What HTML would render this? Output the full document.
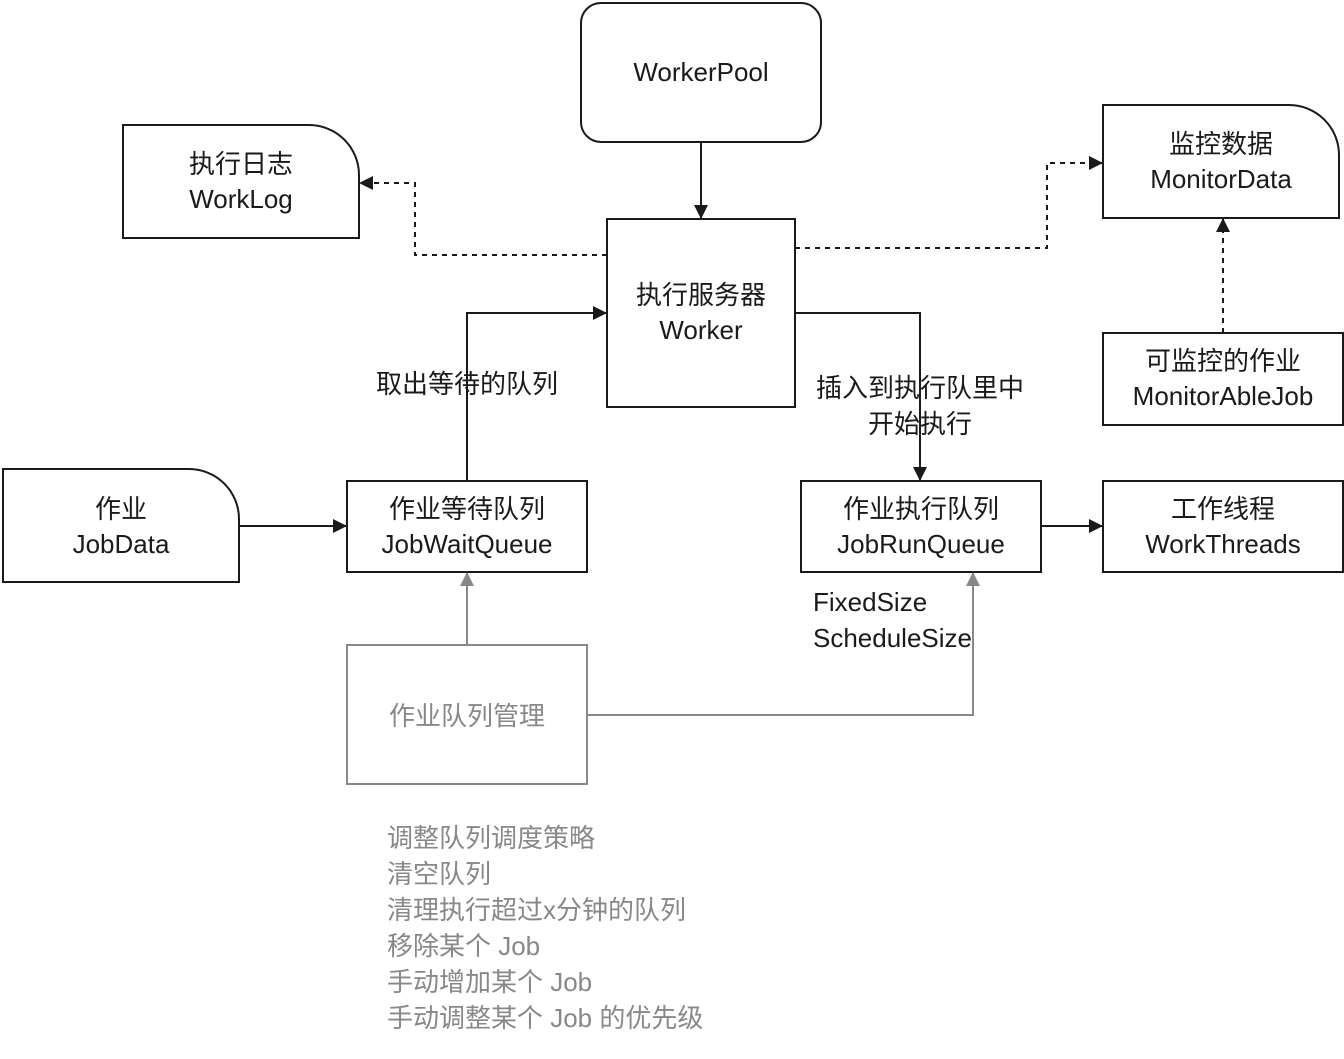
<!DOCTYPE html>
<html><head><meta charset="utf-8"><style>
html,body{margin:0;padding:0;background:#fff;}
svg text{font-family:"Liberation Sans","Noto Sans CJK SC",sans-serif;font-size:26px;fill:#1a1a1a;}
svg text.g{fill:#888;}
</style></head><body>
<svg width="1344" height="1054" viewBox="0 0 1344 1054" xmlns="http://www.w3.org/2000/svg">
<defs>
<marker id="a" markerWidth="14" markerHeight="14" refX="13" refY="7" orient="auto" markerUnits="userSpaceOnUse"><path d="M0,0 L14,7 L0,14 Z" fill="#1a1a1a"/></marker>
<marker id="ag" markerWidth="14" markerHeight="14" refX="13" refY="7" orient="auto" markerUnits="userSpaceOnUse"><path d="M0,0 L14,7 L0,14 Z" fill="#888"/></marker>
</defs>
<g fill="#fff" stroke="#1a1a1a" stroke-width="2">
<rect x="581" y="3" width="240" height="139" rx="20"/>
<rect x="607" y="219" width="188" height="188"/>
<path d="M123,125 H309 A50,50 0 0 1 359,175 V238 H123 Z"/>
<path d="M1103,105 H1289 A50,50 0 0 1 1339,155 V218 H1103 Z"/>
<path d="M3,469 H189 A50,50 0 0 1 239,519 V582 H3 Z"/>
<rect x="1103" y="333" width="240" height="92"/>
<rect x="347" y="481" width="240" height="91"/>
<rect x="801" y="481" width="240" height="91"/>
<rect x="1103" y="481" width="240" height="91"/>
</g>
<rect x="347" y="645" width="240" height="139" fill="#fff" stroke="#888" stroke-width="2"/>
<g fill="none" stroke="#1a1a1a" stroke-width="2">
<path d="M701,142 V218" marker-end="url(#a)"/>
<path d="M607,255 H415 V183 H360" stroke-dasharray="5,5" marker-end="url(#a)"/>
<path d="M795,248 H1047 V163 H1102" stroke-dasharray="5,5" marker-end="url(#a)"/>
<path d="M1223,333 V219" stroke-dasharray="5,5" marker-end="url(#a)"/>
<path d="M239,526 H346" marker-end="url(#a)"/>
<path d="M467,481 V313 H606" marker-end="url(#a)"/>
<path d="M795,313 H920 V480" marker-end="url(#a)"/>
<path d="M1041,526 H1102" marker-end="url(#a)"/>
</g>
<g fill="none" stroke="#888" stroke-width="2">
<path d="M467,645 V573" marker-end="url(#ag)"/>
<path d="M587,715 H973 V573" marker-end="url(#ag)"/>
</g>
<g text-anchor="middle">
<text x="701" y="81">WorkerPool</text>
<text x="701" y="304">执行服务器</text>
<text x="701" y="339">Worker</text>
<text x="241" y="173">执行日志</text>
<text x="241" y="208">WorkLog</text>
<text x="1221" y="153">监控数据</text>
<text x="1221" y="188">MonitorData</text>
<text x="1223" y="370">可监控的作业</text>
<text x="1223" y="405">MonitorAbleJob</text>
<text x="121" y="518">作业</text>
<text x="121" y="553">JobData</text>
<text x="467" y="518">作业等待队列</text>
<text x="467" y="553">JobWaitQueue</text>
<text x="921" y="518">作业执行队列</text>
<text x="921" y="553">JobRunQueue</text>
<text x="1223" y="518">工作线程</text>
<text x="1223" y="553">WorkThreads</text>
<text x="467" y="393">取出等待的队列</text>
<text x="920" y="397">插入到执行队里中</text>
<text x="920" y="433">开始执行</text>
<text x="467" y="725" class="g">作业队列管理</text>
</g>
<text x="813" y="611">FixedSize</text>
<text x="813" y="647">ScheduleSize</text>
<text class="g" x="387" y="847">调整队列调度策略</text>
<text class="g" x="387" y="883">清空队列</text>
<text class="g" x="387" y="919">清理执行超过x分钟的队列</text>
<text class="g" x="387" y="955">移除某个 Job</text>
<text class="g" x="387" y="991">手动增加某个 Job</text>
<text class="g" x="387" y="1027">手动调整某个 Job 的优先级</text>
</svg>
</body></html>
